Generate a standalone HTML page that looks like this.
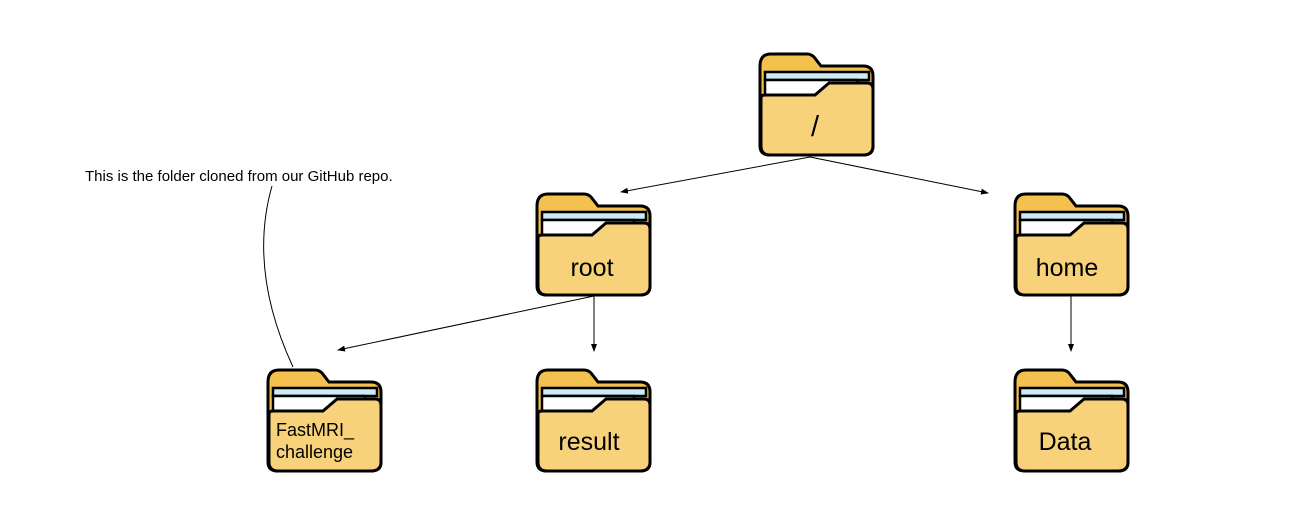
<!DOCTYPE html>
<html><head><style>
html,body{margin:0;padding:0;background:#fff;width:1302px;height:526px;overflow:hidden}
svg{display:block}
text{font-family:"Liberation Sans",Arial,sans-serif;fill:#000}
</style></head><body>
<svg width="1302" height="526" viewBox="0 0 1302 526" xmlns="http://www.w3.org/2000/svg">
<defs>
<g id="f">
<path d="M3,14 Q3,2 14,2 L50,2 Q54,2 57,5 L64,14 L106,14 Q116,14 116,24 L116,94 Q116,103 106,103 L13,103 Q3,103 3,94 Z" fill="#F4C04E" stroke="#000" stroke-width="3"/>
<rect x="8" y="20" width="104" height="8" fill="#CDEBF5" stroke="#000" stroke-width="2.5"/>
<path d="M8,28 L100,28 L100,44 L8,44 Z" fill="#fff" stroke="#000" stroke-width="2.5"/>
<path d="M4,46 Q4,43 8,43 L58,43 L72,31 L110,31 Q116,31 116,37 L116,94 Q116,103 106,103 L13,103 Q4,103 4,94 Z" fill="#F7D27A" stroke="#000" stroke-width="3"/>
</g>
<marker id="a" markerWidth="8" markerHeight="8" refX="7" refY="4" orient="auto" markerUnits="userSpaceOnUse"><path d="M0,1 L8,4 L0,7 Z" fill="#000"/></marker>
</defs>
<use href="#f" x="757" y="52"/>
<use href="#f" x="534" y="192"/>
<use href="#f" x="1012" y="192"/>
<use href="#f" x="265" y="368"/>
<use href="#f" x="534" y="368"/>
<use href="#f" x="1012" y="368"/>
<text x="815" y="136" font-size="29" text-anchor="middle">/</text>
<text x="592" y="276" font-size="25" text-anchor="middle">root</text>
<text x="1067" y="276" font-size="25" text-anchor="middle">home</text>
<text x="589" y="450" font-size="25" text-anchor="middle">result</text>
<text x="1065" y="450" font-size="25" text-anchor="middle">Data</text>
<text x="276" y="436" font-size="18">FastMRI_</text>
<text x="276" y="458" font-size="18">challenge</text>
<g stroke="#000" stroke-width="1" fill="none">
<line x1="810" y1="157" x2="621" y2="192" marker-end="url(#a)"/>
<line x1="810" y1="157" x2="988" y2="193" marker-end="url(#a)"/>
<line x1="594" y1="296" x2="338" y2="350" marker-end="url(#a)"/>
<line x1="594" y1="296" x2="594" y2="351" marker-end="url(#a)"/>
<line x1="1071" y1="296" x2="1071" y2="351" marker-end="url(#a)"/>
<path d="M293,367 Q248,270 272,186"/>
</g>
<text x="85" y="181" font-size="15">This is the folder cloned from our GitHub repo.</text>
</svg>
</body></html>
